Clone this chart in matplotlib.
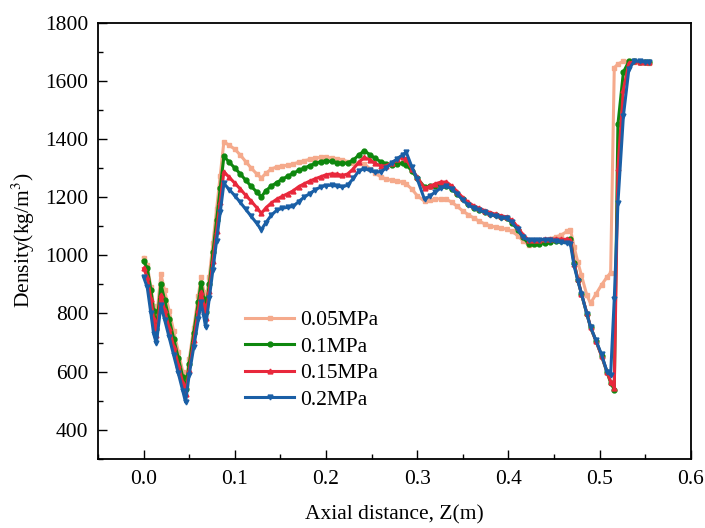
import numpy as np
import matplotlib
matplotlib.use("Agg")
import matplotlib.pyplot as plt
from matplotlib.ticker import MultipleLocator

plt.rcParams['font.family'] = ['Liberation Serif', 'DejaVu Serif']
plt.rcParams['mathtext.fontset'] = 'stix'

# axial position (m), shared by all four curves
z = [0.000, 0.004, 0.008, 0.011, 0.014, 0.019, 0.023, 0.028, 0.033, 0.038,
     0.043, 0.046, 0.050, 0.055, 0.060, 0.063, 0.066, 0.068, 0.072, 0.076,
     0.080, 0.084, 0.088, 0.094, 0.100, 0.106, 0.112, 0.118, 0.124, 0.129,
     0.134, 0.140, 0.146, 0.152, 0.158, 0.164, 0.170, 0.176, 0.182, 0.188,
     0.194, 0.200, 0.206, 0.212, 0.218, 0.224, 0.230, 0.236, 0.242, 0.248,
     0.254, 0.260, 0.266, 0.272, 0.278, 0.284, 0.288, 0.294, 0.300, 0.308,
     0.314, 0.320, 0.326, 0.332, 0.338, 0.344, 0.350, 0.356, 0.362, 0.368,
     0.374, 0.380, 0.386, 0.392, 0.398, 0.404, 0.410, 0.416, 0.422, 0.428,
     0.434, 0.440, 0.446, 0.452, 0.458, 0.464, 0.468, 0.472, 0.476, 0.480,
     0.486, 0.490, 0.496, 0.502, 0.508, 0.512, 0.516, 0.520, 0.526, 0.532,
     0.538, 0.544, 0.550, 0.554]

# density (kg/m3)
rho_005 = [992, 965, 890, 825, 775, 935, 879, 809, 739, 669,
           599, 555, 642, 751, 860, 925, 875, 830, 926, 1042,
           1158, 1274, 1390, 1378, 1365, 1345, 1322, 1300, 1280, 1266,
           1282, 1297, 1304, 1307, 1310, 1314, 1320, 1325, 1330, 1334,
           1337, 1337, 1335, 1332, 1328, 1322, 1316, 1316, 1314, 1298,
           1282, 1270, 1262, 1258, 1256, 1251, 1245, 1228, 1205, 1186,
           1190, 1193, 1195, 1193, 1182, 1168, 1152, 1140, 1128, 1117,
           1108, 1101, 1097, 1093, 1090, 1082, 1068, 1050, 1036, 1040,
           1045, 1052, 1057, 1063, 1070, 1082, 1088, 1029, 977, 931,
           862, 835, 867, 898, 925, 940, 1645, 1658, 1667, 1667,
           1666, 1665, 1664, 1663]

rho_01 = [980, 955, 880, 810, 745, 900, 847, 780, 713, 647,
          580, 540, 626, 733, 840, 905, 850, 805, 900, 1010,
          1120, 1230, 1340, 1320, 1300, 1280, 1258, 1237, 1218, 1201,
          1222, 1238, 1250, 1262, 1272, 1282, 1292, 1300, 1308, 1316,
          1322, 1325, 1323, 1318, 1316, 1318, 1328, 1345, 1360, 1346,
          1333, 1322, 1315, 1310, 1314, 1318, 1312, 1290, 1265, 1235,
          1237, 1239, 1240, 1240, 1228, 1210, 1192, 1176, 1164, 1156,
          1150, 1143, 1137, 1132, 1127, 1112, 1088, 1062, 1040, 1038,
          1040, 1043, 1046, 1048, 1050, 1052, 1056, 975, 915, 868,
          798, 752, 705, 655, 598, 562, 538, 1450, 1630, 1667,
          1667, 1666, 1665, 1664]

rho_015 = [955, 925, 850, 780, 725, 862, 812, 749, 686, 623,
           560, 522, 604, 707, 811, 873, 830, 785, 877, 980,
           1082, 1185, 1287, 1268, 1248, 1228, 1206, 1186, 1164, 1144,
           1163, 1180, 1193, 1203, 1212, 1222, 1236, 1246, 1255, 1263,
           1270, 1277, 1280, 1279, 1275, 1280, 1298, 1320, 1337, 1328,
           1316, 1307, 1308, 1318, 1330, 1339, 1330, 1298, 1268, 1230,
           1238, 1246, 1252, 1252, 1238, 1218, 1198, 1182, 1170, 1162,
           1154, 1147, 1141, 1136, 1132, 1120, 1098, 1070, 1053, 1053,
           1054, 1055, 1056, 1056, 1055, 1055, 1052, 970, 918, 868,
           800, 753, 705, 655, 600, 565, 545, 1300, 1570, 1660,
           1667, 1666, 1665, 1664]

rho_02 = [925, 890, 800, 730, 697, 828, 779, 718, 656, 595,
          533, 495, 590, 685, 780, 839, 790, 753, 852, 951,
          1050, 1148, 1247, 1226, 1205, 1182, 1158, 1134, 1110, 1088,
          1112, 1138, 1155, 1162, 1165, 1168, 1185, 1200, 1212, 1225,
          1235, 1240, 1241, 1238, 1235, 1242, 1265, 1290, 1298, 1292,
          1286, 1287, 1300, 1318, 1332, 1346, 1354, 1305, 1262, 1192,
          1205, 1218, 1232, 1238, 1228, 1210, 1190, 1173, 1162, 1155,
          1148, 1140, 1135, 1130, 1127, 1113, 1090, 1062, 1052, 1052,
          1053, 1054, 1052, 1048, 1045, 1042, 1038, 963, 913, 868,
          798, 753, 707, 659, 600, 588, 850, 1180, 1480, 1640,
          1668, 1667, 1665, 1664]

labels = ['0.05MPa', '0.1MPa', '0.15MPa', '0.2MPa']
series = [rho_005, rho_01, rho_015, rho_02]
colors = ['#F5AA8C', '#0E870E', '#E8283C', '#1A5FA6']
markers = ['s', 'o', '^', 'v']

fig = plt.figure(figsize=(7.05, 5.28), dpi=100)
ax = fig.add_axes([0.139, 0.131, 0.841, 0.826])

for rho, lab, c, m in zip(series, labels, colors, markers):
    ax.plot(z, rho, color=c, marker=m, markersize=3.5, linewidth=2.2, label=lab)

ax.set_xlim(-0.05, 0.6)
ax.set_ylim(300, 1800)
ax.xaxis.set_major_locator(MultipleLocator(0.1))
ax.xaxis.set_minor_locator(MultipleLocator(0.05))
ax.yaxis.set_major_locator(MultipleLocator(200))
ax.yaxis.set_minor_locator(MultipleLocator(100))
ax.set_xticks(np.arange(0.0, 0.61, 0.1))
ax.set_xticklabels(['0.0', '0.1', '0.2', '0.3', '0.4', '0.5', '0.6'])
ax.set_yticks(np.arange(400, 1801, 200))
ax.tick_params(which='major', direction='in', length=6.5, width=1.0, labelsize=15.5)
ax.tick_params(which='minor', direction='in', length=3.5, width=1.0)
ax.tick_params(axis='x', which='major', pad=8)
ax.tick_params(axis='y', which='major', pad=7)
for s in ax.spines.values():
    s.set_linewidth(1.3)

ax.set_xlabel('Axial distance, Z(m)', fontsize=15.5, labelpad=12)
ax.set_ylabel(r'Density(kg/m$^3$)', fontsize=15.5, labelpad=6)

ax.legend(loc='upper left', bbox_to_anchor=(0.215, 0.385), frameon=False,
          fontsize=15.5, handlelength=2.3, handletextpad=0.25, labelspacing=0.3)

fig.savefig('out.png', dpi=100)
